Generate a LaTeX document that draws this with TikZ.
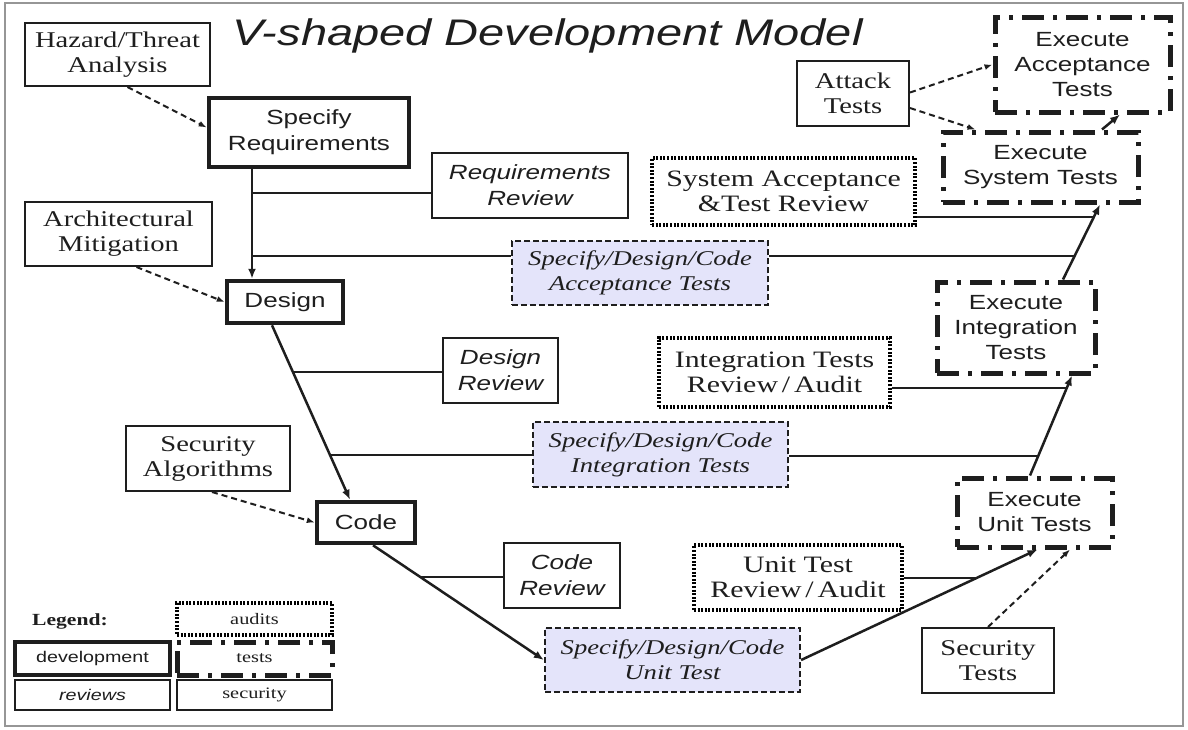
\documentclass[tikz,border=0pt]{standalone}
\usepackage{fontspec}
\setmainfont{Liberation Serif}[FakeStretch=1.27]
\setsansfont{Liberation Sans}[FakeStretch=1.27]
\usetikzlibrary{arrows.meta}
\definecolor{ink}{RGB}{30,30,30}
\definecolor{lav}{RGB}{228,228,250}
\definecolor{rim}{RGB}{150,150,150}
\tikzset{
  box/.style={draw=ink, rectangle, inner sep=0pt, align=center, text=ink},
  devbox/.style={box, line width=4.5pt, font=\sffamily\fontsize{20.5}{26}\selectfont},
  revbox/.style={box, line width=2pt, font=\sffamily\itshape\fontsize{20.5}{26}\selectfont},
  audbox/.style={box, draw=black, line width=3.2pt, dash pattern=on 2pt off 1.6pt, font=\fontsize{23.5}{25}\selectfont},
  specbox/.style={box, fill=lav, line width=2.2pt, dash pattern=on 6pt off 3pt, font=\itshape\fontsize{21}{25}\selectfont},
  testbox/.style={box, line width=5pt, dash pattern=on 22pt off 9pt on 4pt off 9pt, font=\sffamily\fontsize{20.5}{25}\selectfont},
  secbox/.style={box, line width=2pt, font=\fontsize{22.5}{25}\selectfont},
  legfont/.style={font=\fontsize{16}{18}\selectfont},
  vline/.style={draw=ink, line width=2.5pt, -{Latex[length=10pt,width=8pt]}},
  hline/.style={draw=ink, line width=2pt},
  secline/.style={draw=ink, line width=2pt, dash pattern=on 6pt off 4pt, -{Latex[length=8pt,width=6pt]}},
}
\begin{document}
\begin{tikzpicture}[x=1pt,y=-1pt]
\useasboundingbox (0,0) rectangle (1188,729);
\fill[white] (0,0) rectangle (1188,729);
\draw[rim, line width=2.5pt] (5,3) rectangle (1183,726);

\node[font=\sffamily\itshape\fontsize{37}{40}\selectfont, text=ink, anchor=base] (title) at (547.5,45) {V-shaped Development Model};

\node[secbox, minimum width=185pt, minimum height=63pt] (hazard) at (117.5,54.5) {Hazard/Threat\\Analysis};
\node[devbox, minimum width=200pt, minimum height=69pt] (specreq) at (309,132.5) {Specify\\Requirements};
\node[secbox, minimum width=187pt, minimum height=64pt] (archmit) at (118.5,234) {Architectural\\Mitigation};
\node[devbox, minimum width=116pt, minimum height=42pt] (design) at (285,302) {Design};
\node[revbox, minimum width=196pt, minimum height=65pt] (reqrev) at (530,185.5) {Requirements\\Review};
\node[audbox, minimum width=263pt, minimum height=67pt] (sysrev) at (783.5,191.5) {System Acceptance\\\&Test Review};
\node[specbox, minimum width=256pt, minimum height=64pt] (acctest) at (640,273) {Specify/Design/Code\\Acceptance Tests};
\node[secbox, minimum width=112pt, minimum height=65pt] (attack) at (853,93.5) {Attack\\Tests};
\node[testbox, minimum width=175pt, minimum height=95pt] (exacc) at (1082.5,64.5) {Execute\\Acceptance\\Tests};
\node[testbox, minimum width=195pt, minimum height=70pt] (exsys) at (1040.5,167) {Execute\\System Tests};
\node[testbox, minimum width=158pt, minimum height=91pt] (exint) at (1016,327.5) {Execute\\Integration\\Tests};
\node[audbox, minimum width=231pt, minimum height=69pt] (intrev) at (774.5,372.5) {Integration Tests\\Review\,/\,Audit};
\node[revbox, minimum width=115pt, minimum height=65pt] (desrev) at (500.5,370.5) {Design\\Review};
\node[specbox, minimum width=255pt, minimum height=65pt] (inttest) at (660.5,454.5) {Specify/Design/Code\\Integration Tests};
\node[secbox, minimum width=164pt, minimum height=65pt] (secalg) at (208,458.5) {Security\\Algorithms};
\node[devbox, minimum width=98pt, minimum height=41pt] (code) at (366,522.5) {Code};
\node[revbox, minimum width=116pt, minimum height=65pt] (coderev) at (562,575.5) {Code\\Review};
\node[audbox, minimum width=208pt, minimum height=65pt] (unitrev) at (798,577.5) {Unit Test\\Review\,/\,Audit};
\node[specbox, minimum width=255pt, minimum height=64pt] (unittest) at (672.5,660) {Specify/Design/Code\\Unit Test};
\node[testbox, minimum width=155pt, minimum height=69pt] (exunit) at (1034.5,512.5) {Execute\\Unit Tests};
\node[secbox, minimum width=132pt, minimum height=65pt] (sectest) at (988,660.5) {Security\\Tests};

\node[font=\bfseries\fontsize{17}{20}\selectfont, text=ink] (legend) at (70,621) {Legend:};
\node[audbox, legfont, minimum width=155pt, minimum height=32pt] (legaud) at (254.5,619) {audits};
\node[devbox, font=\sffamily\fontsize{15.5}{18}\selectfont, minimum width=155pt, minimum height=33pt] (legdev) at (92.5,658.5) {development};
\node[testbox, legfont, minimum width=155pt, minimum height=33pt] (legtest) at (254.5,658.5) {tests};
\node[revbox, font=\sffamily\itshape\fontsize{15.5}{18}\selectfont, minimum width=155pt, minimum height=30pt] (legrev) at (92.5,695) {reviews};
\node[secbox, legfont, minimum width=155pt, minimum height=30pt] (legsec) at (254.5,695) {security};

\coordinate (v1) at ([xshift=-57pt]specreq.south);
\coordinate (v2) at ([xshift=-33pt]design.north);
\coordinate (v3) at ([xshift=-13pt]design.south);
\coordinate (v4) at ([xshift=-16pt]code.north);
\coordinate (v5) at ([xshift=7pt]code.south);
\coordinate (v8) at ([xshift=3pt]exunit.south);
\coordinate (v9) at ([xshift=-4.5pt]exunit.north);
\coordinate (v10) at ([xshift=56pt]exint.south);
\coordinate (v11) at ([xshift=47pt]exint.north);
\coordinate (v12) at ([xshift=59.5pt]exsys.south);
\coordinate (v13) at ([xshift=61.5pt]exsys.north);
\coordinate (v14) at ([xshift=37.5pt]exacc.south);

\path[vline] (v1) -- (v2);
\path[vline] (v3) -- (v4);
\path[vline] (v5) -- (unittest.west);
\path[vline] (unittest.east) -- (v8);
\path[vline] (v9) -- (v10);
\path[vline] (v11) -- (v12);
\path[vline] (v13) -- (v14);

\coordinate (j1) at (v1 |- 0,193);
\coordinate (j2) at (v1 |- 0,256);
\coordinate (j3) at (intersection of v11--v12 and 0,256--10,256);
\coordinate (j4) at (intersection of v11--v12 and 0,217--10,217);
\coordinate (j5) at (intersection of v3--v4 and 0,372--10,372);
\coordinate (j6) at (intersection of v3--v4 and 0,455--10,455);
\coordinate (j7) at (intersection of v9--v10 and 0,456--10,456);
\coordinate (j8) at (intersection of v9--v10 and 0,388--10,388);
\coordinate (j9) at (intersection of v5--unittest.west and 0,577--10,577);
\coordinate (j10) at (intersection of unittest.east--v8 and 0,578--10,578);

\path[hline] (j1) -- (j1 -| reqrev.west);
\path[hline] (j2) -- (j2 -| acctest.west);
\path[hline] (acctest.east |- j3) -- (j3);
\path[hline] (sysrev.east |- j4) -- (j4);
\path[hline] (j5) -- (j5 -| desrev.west);
\path[hline] (j6) -- (j6 -| inttest.west);
\path[hline] (inttest.east |- j7) -- (j7);
\path[hline] (intrev.east |- j8) -- (j8);
\path[hline] (j9) -- (j9 -| coderev.west);
\path[hline] (unitrev.east |- j10) -- (j10);

\path[secline] ([xshift=10pt]hazard.south) -- ([yshift=5pt]specreq.west);
\path[secline] ([xshift=18pt]archmit.south) -- (design.west);
\path[secline] ([xshift=4pt]secalg.south) -- (code.west);
\path[secline] ([yshift=1pt]attack.east) -- (exacc.west);
\path[secline] ([yshift=-14.5pt]attack.east) -- ([xshift=-65pt]exsys.north);
\path[secline] (sectest.north) -- ([xshift=35.5pt]exunit.south);
\end{tikzpicture}
\end{document}
